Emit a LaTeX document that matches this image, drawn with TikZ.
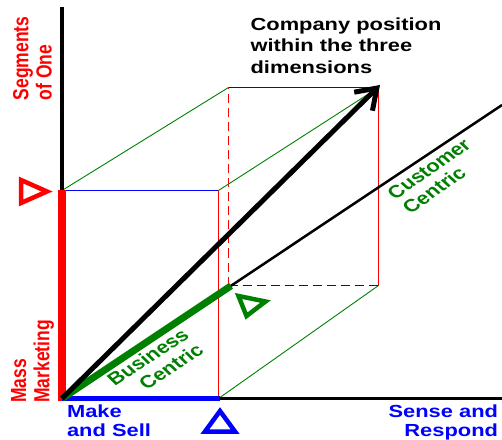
\documentclass[tikz,border=0pt]{standalone}
\usepackage{fontspec}
\setmainfont{Liberation Sans}
\usetikzlibrary{arrows.meta}
\definecolor{dgreen}{RGB}{0,128,0}
\definecolor{pblue}{RGB}{0,0,255}
\definecolor{pred}{RGB}{255,0,0}
\begin{document}
\begin{tikzpicture}[x=1pt,y=1pt,
  lbl/.style={inner sep=0pt, transform shape, font=\bfseries\fontsize{17.5}{18.7}\selectfont},
  edgeline/.style={line width=1.2pt},
  dashline/.style={line width=1.2pt, dash pattern=on 9pt off 5pt},
  marker/.style={line width=4.5pt, line join=miter}
]
\useasboundingbox (0,0) rectangle (502,439);
% corners of the box
\coordinate (O) at (62,40.5);
\coordinate (A) at (218.5,40.5);
\coordinate (C) at (62,248.5);
\coordinate (B) at (218.5,248.5);
\coordinate (D) at (228.5,153.5);
\coordinate (E) at (378.5,153.5);
\coordinate (G) at (228.5,351.5);
\coordinate (F) at (378.5,351.5);
\coordinate (T) at (380,354);
\coordinate (Vtop) at (62,432);
\coordinate (Hend) at (502,40.5);
\coordinate (Dend) at (502,334);
\coordinate (Dg) at (231,153.2);
\coordinate (Rb) at (62,38);
\coordinate (Rt) at (62,249);
\coordinate (Bl) at (220,40.5);
% thin box edges
\draw[draw=pblue, edgeline] (C) -- (B);
\draw[draw=pblue, edgeline] (G) -- (F);
\draw[draw=pred, edgeline] (B) -- (A);
\draw[draw=pred, edgeline] (E) -- (F);
\draw[draw=pred, dashline] (D) -- (G);
\draw[draw=pblue, dashline] (D) -- (E);
\draw[draw=dgreen, line width=0.9pt] (C) -- (G);
\draw[draw=dgreen, line width=0.9pt] (B) -- (F);
\draw[draw=dgreen, line width=0.9pt] (A) -- (E);
% axes
\draw[line width=4pt] (O) -- (Vtop);
\draw[line width=3pt] (O) -- (Hend);
\draw[line width=2.5pt] (O) -- (Dend);
% thick segments
\draw[draw=pred, line width=8pt] (Rb) -- (Rt);
\draw[draw=pblue, line width=5.5pt] (O) -- (Bl);
\draw[draw=dgreen, line width=7pt] (O) -- (Dg);
\draw[line width=5pt, -{Straight Barb[length=19pt,width=26pt]}] (O) -- (T);
% triangles
\draw[draw=pred, marker] (21,259) -- (21,236) -- (47,247.5) -- cycle;
\draw[draw=pblue, marker] (220,28) -- (205,7.5) -- (235,7.5) -- cycle;
\draw[draw=dgreen, marker] (238.5,143) -- (246.5,123) -- (265.5,137.5) -- cycle;
% labels
\begin{scope}[shift={(346,393.3)}, xscale=1.25]
\node[lbl, align=left, font=\bfseries\fontsize{17.5}{21.3}\selectfont] (title) at (0,0) {Company position\\within the three\\dimensions};
\end{scope}
\begin{scope}[shift={(32.5,380.5)}, xscale=1.25]
\node[lbl, align=left, text=pred, rotate=90] (seg) at (0,0) {Segments\\of One};
\end{scope}
\begin{scope}[shift={(32.5,77.5)}, xscale=1.25]
\node[lbl, align=left, text=pred, rotate=90] (mass) at (0,0) {Mass\\Marketing};
\end{scope}
\begin{scope}[shift={(109,18.25)}, xscale=1.25]
\node[lbl, align=left, text=pblue] (make) at (0,0) {Make\\and Sell};
\end{scope}
\begin{scope}[shift={(443.3,16.4)}, xscale=1.25]
\node[lbl, align=right, text=pblue] (sense) at (0,0) {Sense and\\Respond};
\end{scope}
\begin{scope}[shift={(155,74.5)}, xscale=1.25]
\node[lbl, align=right, text=dgreen, rotate=39] (bus) at (0,0) {Business\\Centric};
\end{scope}
\begin{scope}[shift={(436.5,263)}, xscale=1.25]
\node[lbl, align=left, text=dgreen, rotate=41] (cust) at (0,0) {Customer\\Centric};
\end{scope}
\end{tikzpicture}
\end{document}
